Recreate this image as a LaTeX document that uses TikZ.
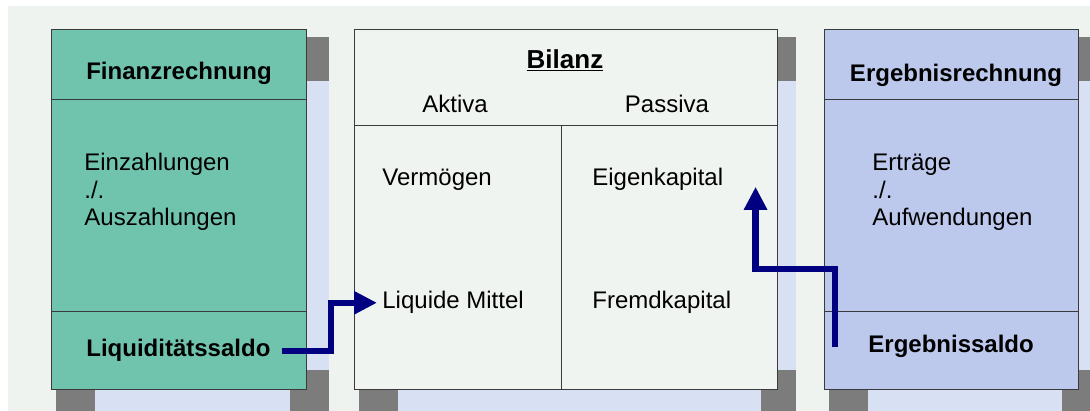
\documentclass[tikz,border=0pt]{standalone}
\usepackage{fontspec}
\setmainfont{Liberation Sans}
\usetikzlibrary{arrows.meta}
\definecolor{panelbg}{HTML}{EEF3EF}
\definecolor{finteal}{HTML}{70C4AE}
\definecolor{ergblue}{HTML}{BCC8EC}
\definecolor{bilfill}{HTML}{F0F4F0}
\definecolor{shadegray}{HTML}{7C7C7C}
\definecolor{shadeblue}{HTML}{D8E0F4}
\definecolor{rimline}{HTML}{3A3A3A}
\definecolor{flownavy}{HTML}{000080}

\begin{document}
\begin{tikzpicture}[x=1pt,y=-1pt,line width=0.8pt,
  txt/.style={inner sep=0pt,font=\fontsize{24}{27.5}\selectfont},
  head/.style={txt,font=\fontsize{24}{27.5}\selectfont\bfseries},
  flow/.style={draw=flownavy,line width=6.5pt,-{Triangle[length=23pt,width=22pt]}}]
\useasboundingbox (0,0) rectangle (1090,411);
% canvas
\fill[white] (0,0) rectangle (1090,411);
\fill[panelbg] (8,6) rectangle (1090,411);
% shadows behind the three panels
\foreach \l/\r/\d in {51/306/23,354/777/19,824/1078/23}{
  \fill[shadeblue] (\l+5,37) rectangle (\r+\d,411);
  \fill[shadegray] (\r,37) rectangle (\r+\d,81);
  \fill[shadegray] (\r-16,370) rectangle (\r+\d,411);
  \fill[shadegray] (\l+5,389) rectangle (\l+44,411);
}
% Finanzrechnung
\filldraw[draw=rimline,fill=finteal] (51,29) rectangle (306,389);
\draw[rimline] (51,99) -- (306,99);
\draw[rimline] (51,311) -- (306,311);
% Bilanz
\filldraw[draw=rimline,fill=bilfill] (354,29) rectangle (777,389);
\draw[rimline] (354,125) -- (777,125);
\draw[rimline] (561,125) -- (561,389);
% Ergebnisrechnung
\filldraw[draw=rimline,fill=ergblue] (824,29) rectangle (1078,389);
\draw[rimline] (824,99) -- (1078,99);
\draw[rimline] (824,311) -- (1078,311);
% texts
\node[head,anchor=base] (finhead) at (179,80) {Finanzrechnung};
\node[txt,anchor=north west,align=left] (finbody) at (84,153) {Einzahlungen\\./.\\Auszahlungen};
\node[head,anchor=base west] (liqsaldo) at (86,357) {Liquiditätssaldo};
\node[head,font=\fontsize{26}{28}\selectfont\bfseries,anchor=base] (bilhead) at (565,69) {\underline{Bilanz}};
\node[txt,anchor=base] (aktiva) at (455,113) {Aktiva};
\node[txt,anchor=base] (passiva) at (667,113) {Passiva};
\node[txt,anchor=base west] (vermoegen) at (382,186) {Vermögen};
\node[txt,anchor=base west] (lmittel) at (382,309) {Liquide Mittel};
\node[txt,anchor=base west] (eigenkap) at (592,186) {Eigenkapital};
\node[txt,anchor=base west] (fremdkap) at (592,309) {Fremdkapital};
\node[head,anchor=base] (erghead) at (956,82) {Ergebnisrechnung};
\node[txt,anchor=north west,align=left] (ergbody) at (872,154) {Erträge\\./.\\Aufwendungen};
\node[head,anchor=base west] (ergsaldo) at (868,353) {Ergebnissaldo};
% flows into the balance sheet
\draw[flow] ([xshift=11pt]liqsaldo.east) -- ++(49,0) |- ([xshift=-5pt]lmittel.west);
\draw[flow] ([xshift=-33pt]ergsaldo.west) -- ++(0,-78) -| ([xshift=32pt,yshift=-7pt]eigenkap.east);
\end{tikzpicture}
\end{document}
